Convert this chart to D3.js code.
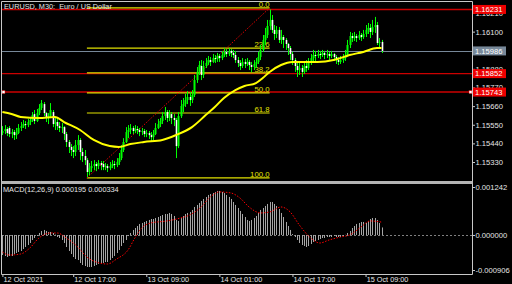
<!DOCTYPE html>
<html>
<head>
<meta charset="utf-8">
<script src="https://cdn.jsdelivr.net/npm/d3@7"></script>
<style>
  body { margin: 0; background: #000; }
  svg text { font-family: 'Liberation Sans', Arial, sans-serif; font-size: 7.3px; fill: #e6e6e6; }
</style>
</head>
<body>
<svg id="chart"></svg>
<script>
// EURUSD M30 bars, 12 Oct 01:30 .. 15 Oct 12:30
const OPEN = [
  1.15501,1.15513,1.15525,1.15531,1.15495,1.15507,1.15489,1.15501,1.15531,1.15542,
  1.15554,1.15548,1.15566,1.15578,1.15613,1.15572,1.15619,1.15649,1.15672,1.15619,
  1.15590,1.15601,1.15625,1.15554,1.15566,1.15542,1.15531,1.15536,1.15495,1.15448,
  1.15419,1.15401,1.15389,1.15430,1.15460,1.15389,1.15365,1.15341,1.15271,1.15294,
  1.15306,1.15318,1.15306,1.15324,1.15318,1.15300,1.15306,1.15294,1.15306,1.15318,
  1.15312,1.15330,1.15353,1.15401,1.15448,1.15507,1.15519,1.15531,1.15513,1.15525,
  1.15519,1.15507,1.15513,1.15495,1.15501,1.15489,1.15477,1.15495,1.15531,1.15554,
  1.15572,1.15601,1.15625,1.15590,1.15613,1.15590,1.15578,1.15424,1.15601,1.15661,
  1.15672,1.15696,1.15714,1.15696,1.15726,1.15814,1.15862,1.15897,1.15844,1.15897,
  1.15915,1.15932,1.15921,1.15944,1.15938,1.15956,1.15944,1.15962,1.15980,1.15968,
  1.15986,1.15974,1.15962,1.15932,1.15915,1.15897,1.15921,1.15909,1.15921,1.15903,
  1.15891,1.15909,1.15921,1.15950,1.15992,1.16051,1.16080,1.16133,1.16169,1.16110,
  1.16086,1.16110,1.16051,1.16068,1.16051,1.16027,1.16003,1.15968,1.15932,1.15897,
  1.15873,1.15885,1.15862,1.15897,1.15885,1.15921,1.15944,1.15962,1.15956,1.15968,
  1.15962,1.15974,1.15962,1.15968,1.15956,1.15968,1.15950,1.15932,1.15921,1.15932,
  1.15944,1.15956,1.16021,1.16074,1.16062,1.16074,1.16062,1.16080,1.16068,1.16086,
  1.16110,1.16122,1.16098,1.16127,1.16139,1.16033,1.16039
];
const HIGH = [
  1.15542,1.15548,1.15536,1.15542,1.15525,1.15519,1.15531,1.15554,1.15566,1.15578,
  1.15572,1.15584,1.15596,1.15625,1.15637,1.15643,1.15672,1.15696,1.15684,1.15625,
  1.15619,1.15678,1.15637,1.15596,1.15590,1.15566,1.15560,1.15542,1.15507,1.15460,
  1.15436,1.15424,1.15460,1.15489,1.15471,1.15412,1.15401,1.15353,1.15324,1.15336,
  1.15341,1.15330,1.15341,1.15336,1.15336,1.15324,1.15318,1.15330,1.15341,1.15336,
  1.15353,1.15383,1.15430,1.15471,1.15536,1.15548,1.15554,1.15542,1.15548,1.15542,
  1.15531,1.15531,1.15525,1.15519,1.15513,1.15507,1.15519,1.15560,1.15584,1.15590,
  1.15625,1.15655,1.15637,1.15637,1.15625,1.15613,1.15590,1.15625,1.15696,1.15708,
  1.15732,1.15749,1.15743,1.15755,1.15844,1.15891,1.15927,1.15932,1.15927,1.15944,
  1.15956,1.15950,1.15968,1.15962,1.15974,1.15968,1.15986,1.16003,1.15997,1.16003,
  1.15997,1.15992,1.15986,1.15950,1.15932,1.15944,1.15938,1.15944,1.15932,1.15921,
  1.15932,1.15944,1.15980,1.16021,1.16080,1.16122,1.16169,1.16231,1.16198,1.16139,
  1.16133,1.16127,1.16110,1.16080,1.16062,1.16033,1.16015,1.15980,1.15944,1.15915,
  1.15915,1.15903,1.15921,1.15932,1.15944,1.15968,1.15992,1.15986,1.15992,1.15986,
  1.15992,1.15986,1.15992,1.15980,1.15986,1.15974,1.15962,1.15950,1.15956,1.15968,
  1.15992,1.16051,1.16098,1.16092,1.16098,1.16086,1.16104,1.16092,1.16110,1.16139,
  1.16151,1.16145,1.16169,1.16187,1.16157,1.16062,1.16051
];
const LOW = [
  1.15489,1.15495,1.15483,1.15477,1.15471,1.15460,1.15466,1.15495,1.15513,1.15531,
  1.15525,1.15536,1.15548,1.15566,1.15554,1.15566,1.15607,1.15637,1.15601,1.15566,
  1.15554,1.15590,1.15536,1.15519,1.15519,1.15507,1.15501,1.15460,1.15419,1.15383,
  1.15365,1.15353,1.15365,1.15401,1.15341,1.15330,1.15312,1.15241,1.15253,1.15271,
  1.15282,1.15276,1.15288,1.15282,1.15282,1.15282,1.15271,1.15282,1.15294,1.15288,
  1.15300,1.15312,1.15341,1.15389,1.15442,1.15471,1.15495,1.15495,1.15501,1.15495,
  1.15483,1.15489,1.15477,1.15477,1.15466,1.15454,1.15460,1.15489,1.15525,1.15536,
  1.15554,1.15578,1.15566,1.15572,1.15554,1.15542,1.15353,1.15412,1.15590,1.15625,
  1.15655,1.15672,1.15661,1.15678,1.15714,1.15797,1.15844,1.15814,1.15826,1.15885,
  1.15903,1.15897,1.15915,1.15915,1.15921,1.15921,1.15932,1.15950,1.15950,1.15956,
  1.15950,1.15944,1.15915,1.15891,1.15873,1.15885,1.15885,1.15897,1.15873,1.15862,
  1.15873,1.15885,1.15909,1.15932,1.15980,1.16021,1.16062,1.16110,1.16092,1.16051,
  1.16062,1.16033,1.16027,1.16003,1.15992,1.15962,1.15932,1.15903,1.15862,1.15832,
  1.15844,1.15832,1.15850,1.15862,1.15873,1.15903,1.15921,1.15921,1.15944,1.15938,
  1.15950,1.15938,1.15944,1.15932,1.15944,1.15927,1.15909,1.15903,1.15909,1.15915,
  1.15927,1.15950,1.16003,1.16039,1.16045,1.16039,1.16051,1.16045,1.16057,1.16068,
  1.16086,1.16062,1.16080,1.16092,1.16021,1.16003,1.15974
];
const CLOSE = [
  1.15513,1.15525,1.15501,1.15495,1.15507,1.15489,1.15501,1.15531,1.15542,1.15554,
  1.15548,1.15566,1.15578,1.15607,1.15572,1.15619,1.15649,1.15678,1.15619,1.15590,
  1.15601,1.15637,1.15554,1.15566,1.15542,1.15531,1.15536,1.15495,1.15448,1.15419,
  1.15401,1.15389,1.15430,1.15460,1.15389,1.15365,1.15341,1.15271,1.15294,1.15306,
  1.15318,1.15306,1.15324,1.15312,1.15300,1.15306,1.15294,1.15306,1.15318,1.15312,
  1.15330,1.15353,1.15401,1.15448,1.15507,1.15519,1.15531,1.15513,1.15525,1.15519,
  1.15507,1.15513,1.15495,1.15501,1.15489,1.15477,1.15495,1.15531,1.15554,1.15572,
  1.15601,1.15625,1.15590,1.15613,1.15590,1.15578,1.15424,1.15601,1.15661,1.15672,
  1.15696,1.15714,1.15696,1.15726,1.15814,1.15862,1.15903,1.15844,1.15897,1.15915,
  1.15932,1.15921,1.15944,1.15938,1.15956,1.15944,1.15962,1.15980,1.15968,1.15986,
  1.15974,1.15962,1.15932,1.15915,1.15897,1.15921,1.15909,1.15921,1.15903,1.15891,
  1.15909,1.15921,1.15950,1.15992,1.16051,1.16080,1.16133,1.16169,1.16110,1.16086,
  1.16110,1.16051,1.16068,1.16051,1.16027,1.16003,1.15968,1.15932,1.15897,1.15873,
  1.15885,1.15862,1.15897,1.15885,1.15921,1.15944,1.15962,1.15956,1.15968,1.15962,
  1.15974,1.15962,1.15968,1.15956,1.15968,1.15950,1.15932,1.15921,1.15932,1.15944,
  1.15956,1.16021,1.16074,1.16062,1.16074,1.16062,1.16080,1.16068,1.16086,1.16110,
  1.16122,1.16098,1.16127,1.16139,1.16033,1.16039,1.15986
];

// yellow moving average, read at some bars
const MA_IDX = [0,4,8,16,23,27,34,40,47,51,56,62,70,76,83,89,93,97,102,106,111,114,117,122,127,138,145,152,158,164,166];
const MA_VALUES = [1.15625,1.15614,1.15596,1.15590,1.15596,1.15566,1.15519,1.15460,1.15424,1.15419,1.15436,1.15448,
  1.15460,1.15489,1.15536,1.15607,1.15655,1.15708,1.15755,1.15779,1.15796,1.15826,1.15862,1.15903,1.15921,1.15921,
  1.15932,1.15962,1.15980,1.16003,1.16003];

// MACD(12,26,9) main (histogram) per bar, signal read at some bars
const MACD_MAIN = [
  -0.000518,-0.000544,-0.000570,-0.000544,-0.000544,-0.000492,-0.000466,-0.000440,-0.000414,-0.000363,
  -0.000311,-0.000259,-0.000207,-0.000130,-0.000078,-0.000026,0.000052,0.000104,0.000130,0.000104,
  0.000078,0.000078,0.000052,0.000010,-0.000052,-0.000078,-0.000130,-0.000207,-0.000311,-0.000414,
  -0.000492,-0.000570,-0.000622,-0.000648,-0.000725,-0.000777,-0.000803,-0.000829,-0.000829,-0.000829,
  -0.000803,-0.000777,-0.000751,-0.000725,-0.000725,-0.000699,-0.000699,-0.000648,-0.000596,-0.000544,
  -0.000466,-0.000389,-0.000285,-0.000207,-0.000130,-0.000026,0.000052,0.000130,0.000181,0.000233,
  0.000285,0.000311,0.000337,0.000363,0.000389,0.000414,0.000414,0.000440,0.000466,0.000492,
  0.000518,0.000544,0.000544,0.000570,0.000544,0.000492,0.000389,0.000363,0.000440,0.000492,
  0.000544,0.000570,0.000596,0.000648,0.000725,0.000777,0.000829,0.000881,0.000932,0.000984,
  0.001036,0.001062,0.001088,0.001114,0.001140,0.001140,0.001114,0.001088,0.001036,0.000984,
  0.000932,0.000855,0.000777,0.000699,0.000622,0.000544,0.000466,0.000389,0.000363,0.000389,
  0.000440,0.000492,0.000570,0.000648,0.000699,0.000751,0.000803,0.000855,0.000855,0.000803,
  0.000751,0.000673,0.000570,0.000466,0.000337,0.000233,0.000130,0.000026,-0.000052,-0.000130,
  -0.000207,-0.000259,-0.000285,-0.000311,-0.000285,-0.000233,-0.000181,-0.000155,-0.000130,-0.000104,
  -0.000078,-0.000078,-0.000052,-0.000052,-0.000052,-0.000026,-0.000052,-0.000052,-0.000052,-0.000026,
  0.000005,0.000052,0.000104,0.000181,0.000233,0.000285,0.000311,0.000337,0.000337,0.000311,
  0.000363,0.000414,0.000440,0.000440,0.000389,0.000311,0.000195
];
const SIGNAL_IDX = [0,3,8,12,16,21,24,28,33,37,41,46,50,55,58,61,65,72,78,82,87,91,95,100,104,108,113,117,122,126,130,135,139,143,148,152,157,161,166];
const SIGNAL_VALUES = [-0.000440,-0.000518,-0.000492,-0.000337,-0.000078,0.000052,0.000052,-0.000078,-0.000311,-0.000570,
  -0.000699,-0.000751,-0.000622,-0.000389,-0.000078,0.000181,0.000311,0.000363,0.000440,0.000518,0.000725,0.000984,
  0.001114,0.001088,0.000958,0.000725,0.000570,0.000596,0.000725,0.000596,0.000259,-0.000078,-0.000207,-0.000130,
  -0.000052,0.000000,0.000207,0.000363,0.000334];

// 1.15990 sits under the bid tag in the reference, so it is not listed
const PRICE_TICKS = [1.16210,1.16100,1.15880,1.15770,1.15660,1.15550,1.15440,1.15330];
const MACD_TICKS = [0.001242, 0, -0.000906];
const TIME_TICKS = [0, 31, 63, 95, 127, 159];
const TIME_LABELS = ['12 Oct 2021','12 Oct 17:00','13 Oct 09:00','14 Oct 01:00','14 Oct 17:00','15 Oct 09:00'];

const RED_LEVELS = [1.16231, 1.15852, 1.15743];
const BID = 1.15986;
const FIB_LEVELS = [0, 23.6, 38.2, 50, 61.8, 100];
const FIB_HIGH = 1.16240, FIB_LOW = 1.15236;
const FIB_FROM = 37, FIB_TO = 117;

const WIDTH = 512, HEIGHT = 284;
const AXIS_X = 472.5;
const FONT = "'Liberation Sans', Arial, sans-serif";

const svg = d3.select('#chart').attr('width', WIDTH).attr('height', HEIGHT);
svg.append('rect').attr('width', WIDTH).attr('height', HEIGHT).attr('fill', '#000');

const xScale = d3.scaleLinear().domain([0, CLOSE.length - 1]).range([2.4, 2.4 + (CLOSE.length - 1) * 2.284]);
const yScale = d3.scaleLinear().domain([1.15330, 1.16210]).range([162, 13]);
const mScale = d3.scaleLinear().domain([-0.000906, 0.001242]).range([270, 187]);

const defs = svg.append('defs');
defs.append('clipPath').attr('id', 'clipMain').append('rect')
    .attr('x', 2).attr('y', 2).attr('width', 470).attr('height', 179);
defs.append('clipPath').attr('id', 'clipMacd').append('rect')
    .attr('x', 2).attr('y', 184).attr('width', 470).attr('height', 90);

const main = svg.append('g').attr('clip-path', 'url(#clipMain)');
const macd = svg.append('g').attr('clip-path', 'url(#clipMacd)');

// horizontal lines
main.selectAll('.level').data(RED_LEVELS).join('line')
    .attr('x1', 2).attr('x2', 472)
    .attr('y1', d => yScale(d)).attr('y2', d => yScale(d))
    .attr('stroke', '#cc0000').attr('stroke-width', 1.4);

main.append('line')
    .attr('x1', 2).attr('x2', 472)
    .attr('y1', Math.round(yScale(BID)) + 0.5).attr('y2', Math.round(yScale(BID)) + 0.5)
    .attr('stroke', '#778899');

// fibonacci
const fibX1 = xScale(FIB_FROM), fibX2 = xScale(FIB_TO);
const fibPrice = lvl => FIB_HIGH - lvl / 100 * (FIB_HIGH - FIB_LOW);

main.selectAll('.fib').data(FIB_LEVELS).join('line')
    .attr('x1', fibX1).attr('x2', fibX2)
    .attr('y1', d => yScale(fibPrice(d))).attr('y2', d => yScale(fibPrice(d)))
    .attr('stroke', '#e0e000').attr('stroke-width', 1.2);

main.selectAll('.fibLabel').data(FIB_LEVELS).join('text')
    .attr('x', fibX2).attr('y', d => yScale(fibPrice(d)) - 1.3)
    .attr('text-anchor', 'end')
    .style('fill', '#e0e000').style('font-size', '7.8px')
    .text(d => d.toFixed(1));

main.append('line')
    .attr('x1', fibX1).attr('y1', yScale(FIB_LOW))
    .attr('x2', fibX2).attr('y2', yScale(FIB_HIGH))
    .attr('stroke', '#e00000').attr('stroke-dasharray', '1.5,1.5');

// candles
const bars = d3.range(CLOSE.length);
const bx = i => Math.round(xScale(i)) + 0.5;

main.selectAll('.wick').data(bars).join('line')
    .attr('x1', bx).attr('x2', bx)
    .attr('y1', i => yScale(HIGH[i])).attr('y2', i => yScale(LOW[i]))
    .attr('stroke', '#00ff00');

main.selectAll('.body').data(bars).join('rect')
    .attr('x', i => bx(i) - (CLOSE[i] < OPEN[i] ? 0.8 : 1))
    .attr('width', i => CLOSE[i] < OPEN[i] ? 1.6 : 2)
    .attr('y', i => yScale(Math.max(OPEN[i], CLOSE[i])))
    .attr('height', i => Math.max(1, Math.abs(yScale(OPEN[i]) - yScale(CLOSE[i]))))
    .attr('fill', i => CLOSE[i] < OPEN[i] ? '#ffffff' : '#00ff00');

// moving average
const maLine = d3.line()
    .x((d, i) => xScale(MA_IDX[i]))
    .y(d => yScale(d))
    .curve(d3.curveMonotoneX);
main.append('path').datum(MA_VALUES)
    .attr('d', maLine)
    .attr('fill', 'none').attr('stroke', '#ffff00').attr('stroke-width', 2);

// anchor squares of the selected line
main.selectAll('.anchor').data([3.5, 470.5]).join('rect')
    .attr('x', d => d - 1.5).attr('y', yScale(RED_LEVELS[2]) - 1.5)
    .attr('width', 3).attr('height', 3)
    .attr('fill', '#fff').attr('stroke', '#cc0000').attr('stroke-width', 0.5);

// MACD pane
macd.append('line')
    .attr('x1', 2).attr('x2', 472)
    .attr('y1', Math.round(mScale(0)) + 0.5).attr('y2', Math.round(mScale(0)) + 0.5)
    .attr('stroke', '#808080').attr('stroke-dasharray', '2,2');

macd.selectAll('.hist').data(bars).join('line')
    .attr('x1', bx).attr('x2', bx)
    .attr('y1', mScale(0)).attr('y2', i => mScale(MACD_MAIN[i]))
    .attr('stroke', '#a6a6a6');

const sigLine = d3.line()
    .x((d, i) => xScale(SIGNAL_IDX[i]))
    .y(d => mScale(d))
    .curve(d3.curveMonotoneX);
macd.append('path').datum(SIGNAL_VALUES)
    .attr('d', sigLine)
    .attr('fill', 'none').attr('stroke', '#ff0000').attr('stroke-dasharray', '1.5,1.5');

// frame
const frame = svg.append('g').attr('stroke', '#c8c8c8').attr('fill', 'none');
frame.append('line').attr('x1', 1.5).attr('x2', AXIS_X).attr('y1', 1.5).attr('y2', 1.5);
frame.append('line').attr('x1', 1.5).attr('x2', 1.5).attr('y1', 1.5).attr('y2', 274.5);
frame.append('line').attr('x1', AXIS_X).attr('x2', AXIS_X).attr('y1', 1.5).attr('y2', 274.5);
frame.append('line').attr('x1', 1.5).attr('x2', AXIS_X).attr('y1', 274.5).attr('y2', 274.5);
svg.append('rect').attr('x', 1.5).attr('y', 181).attr('width', AXIS_X - 1.5).attr('height', 3)
    .attr('fill', '#b4b4b4');

// axes
const styleAxis = (g, size) => {
  g.attr('font-family', FONT).attr('font-size', size);
  g.select('.domain').remove();
  g.selectAll('line').attr('stroke', '#c8c8c8');
  g.selectAll('text').style('fill', '#e6e6e6').style('font-size', size + 'px');
};

svg.append('g')
    .attr('transform', `translate(${AXIS_X},0)`)
    .call(d3.axisRight(yScale).tickValues(PRICE_TICKS).tickSize(2.5).tickPadding(0.5).tickFormat(d => d.toFixed(5)))
    .call(g => styleAxis(g, 7.6));

svg.append('g')
    .attr('transform', `translate(${AXIS_X},0)`)
    .call(d3.axisRight(mScale).tickValues(MACD_TICKS).tickSize(2.5).tickPadding(0.5).tickFormat(d => d.toFixed(6)))
    .call(g => styleAxis(g, 7.6));

svg.append('g')
    .attr('transform', 'translate(0,274.5)')
    .call(d3.axisBottom(xScale).tickValues(TIME_TICKS).tickSize(2.5).tickPadding(0).tickFormat((d, i) => TIME_LABELS[i]))
    .call(g => styleAxis(g, 7.3))
    .call(g => g.selectAll('text').attr('text-anchor', 'start').attr('dx', 0.6));

// price labels on the axis
const tags = svg.append('g');
const tag = (price, fill) => {
  const y = yScale(price);
  tags.append('rect').attr('x', 473).attr('y', y - 4.5).attr('width', 33).attr('height', 9).attr('fill', fill);
  tags.append('text').attr('x', 475).attr('y', y).attr('dy', '0.34em')
      .style('fill', '#ffffff').style('font-size', '7.6px').text(price.toFixed(5));
};
tag(BID, '#778899');
RED_LEVELS.forEach(p => tag(p, '#ee0000'));

// titles
svg.append('text').attr('x', 4).attr('y', 9).style('white-space', 'pre')
    .text('EURUSD, M30:  Euro / US Dollar');
svg.append('text').attr('x', 3).attr('y', 192)
    .text(`MACD(12,26,9) ${MACD_MAIN[MACD_MAIN.length - 1].toFixed(6)} ${SIGNAL_VALUES[SIGNAL_VALUES.length - 1].toFixed(6)}`);
</script>
</body>
</html>
